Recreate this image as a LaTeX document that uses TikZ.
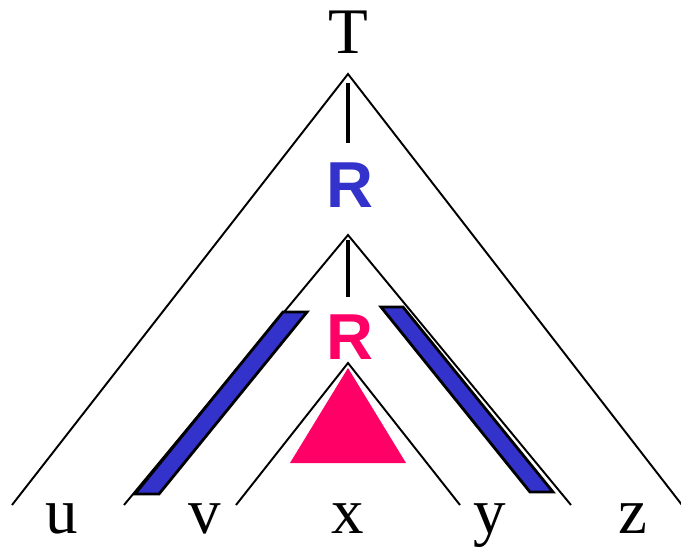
\documentclass[tikz,border=0pt]{standalone}
\usepackage{fontspec}
\setmainfont{Liberation Serif}
\newfontfamily\labelsans{Liberation Sans}
\usepackage{tikz}
\usetikzlibrary{calc}

\definecolor{rblue}{RGB}{51,51,204}
\definecolor{rpink}{RGB}{255,0,102}

\begin{document}
\begin{tikzpicture}[x=0.02cm,y=-0.02cm,
		branch/.style={line width=1.1pt},
		stem/.style={line width=2pt},
		leaf/.style={anchor=base,inner sep=0pt,font=\fontsize{37}{40}\selectfont},
		cat/.style={anchor=base,inner sep=0pt,font=\labelsans\bfseries\fontsize{37}{40}\selectfont},
		band/.style={fill=rblue,draw=black,line width=1.6pt,line join=miter}]
		\useasboundingbox (0,0) rectangle (681,548);
		% apexes and ends
		\coordinate (top) at (348,74);
		\coordinate (mid) at (348,235);
		\coordinate (low) at (348,363);
		\coordinate (topL) at (12,505);
		\coordinate (topR) at (682,505);
		\coordinate (midL) at (124,505);
		\coordinate (midR) at (571,505);
		\coordinate (lowL) at (236,505);
		\coordinate (lowR) at (460,505);
		% labels
		\node[leaf] (T) at (348,53) {T};
		\node[cat,text=rblue] (R1) at (350,207) {R};
		\node[cat,text=rpink] (R2) at (350,359) {R};
		\node[leaf] (u) at (62,533) {u};
		\node[leaf] (v) at (205,533) {v};
		\node[leaf] (x) at (348,533) {x};
		\node[leaf] (y) at (490,533) {y};
		\node[leaf] (z) at (633,533) {z};
		% triangles
		\draw[branch] (topL) -- (top) -- (topR);
		\draw[branch] (midL) -- (mid) -- (midR);
		\draw[branch] (lowL) -- (low) -- (lowR);
		\draw[stem] (348,83) -- (348,143);
		\draw[stem] (348,240) -- (348,297);
		\fill[rpink] (348,368) -- (406,463) -- (290,463) -- cycle;
		% bands
		\draw[band] (135,494) -- (159,494) -- (307,312) -- (283,312) -- cycle;
		\draw[band] (381,307) -- (403,307) -- (553,492) -- (530,492) -- cycle;
	\end{tikzpicture}
\end{document}
